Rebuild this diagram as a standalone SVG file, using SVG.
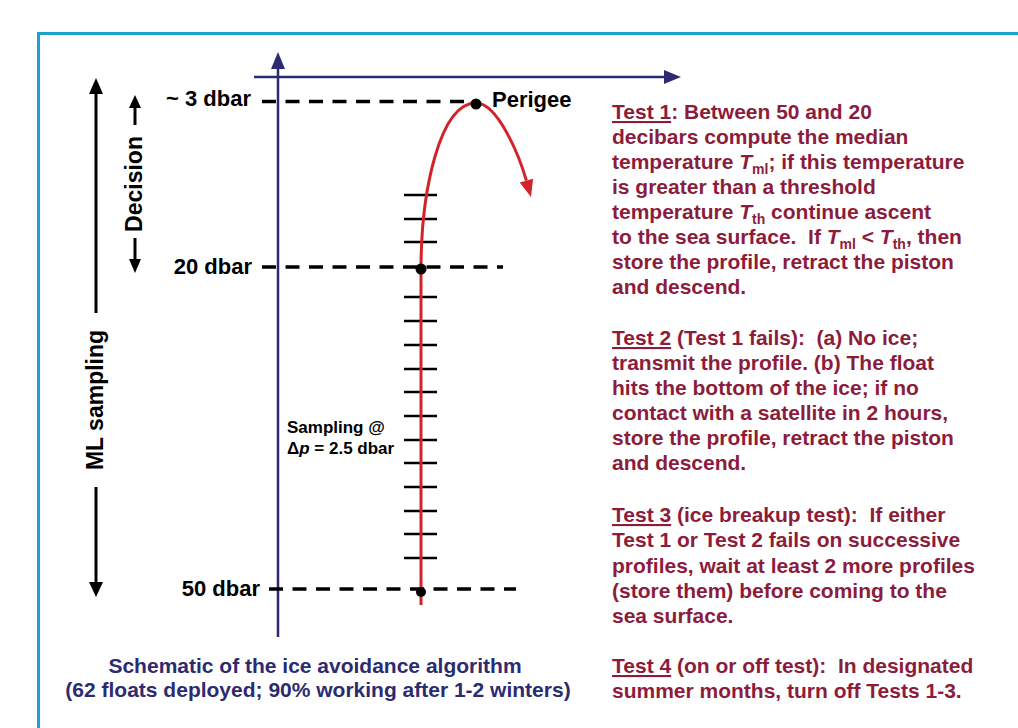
<svg xmlns="http://www.w3.org/2000/svg" width="1018" height="728" viewBox="0 0 1018 728">
<style>
.lbl{font-family:"Liberation Sans",Arial,sans-serif;font-weight:bold;font-size:22px;fill:#000}
.small{font-family:"Liberation Sans",Arial,sans-serif;font-weight:bold;font-size:17px;fill:#000}
.body{font-family:"Liberation Sans",Arial,sans-serif;font-weight:bold;font-size:21px;fill:#8c1c3c;white-space:pre}
.cap{font-family:"Liberation Sans",Arial,sans-serif;font-weight:bold;font-size:21px;fill:#2d2b70}
.dash{stroke:#000;stroke-width:3.5;stroke-dasharray:14 9.5;fill:none}
.tick{stroke:#000;stroke-width:2.5}
.axis{stroke:#2d2b70;stroke-width:2.5;fill:none}
.blk{stroke:#000;stroke-width:3;fill:none}
.u{text-decoration:underline}
.sub{font-size:14px}
</style>
<rect x="0" y="0" width="1018" height="728" fill="#fff"/>
<rect id="frame" x="38.5" y="33.5" width="1000" height="720" fill="none" stroke="#1ca3cb" stroke-width="3"/>

<g id="axes">
<line class="axis" x1="278" y1="66" x2="278" y2="637"/>
<polygon points="278,52 271,69 285,69" fill="#2d2b70"/>
<line class="axis" x1="254" y1="77" x2="666" y2="77"/>
<polygon points="681,77 664,70 664,84" fill="#2d2b70"/>
</g>

<g id="ml-sampling">
<line class="blk" x1="96" y1="90" x2="96" y2="313"/>
<polygon points="96,78 89,94 103,94" fill="#000"/>
<line class="blk" x1="96" y1="487" x2="96" y2="586"/>
<polygon points="96,597 89,582 103,582" fill="#000"/>
<text class="lbl" text-anchor="middle" transform="translate(103,400) rotate(-90)" style="font-size:23px">ML sampling</text>
</g>

<g id="decision">
<line class="blk" x1="135" y1="105" x2="135" y2="125"/>
<polygon points="135,95 129,108 141,108" fill="#000"/>
<line class="blk" x1="135" y1="238" x2="135" y2="262"/>
<polygon points="135,273 129,259 141,259" fill="#000"/>
<text class="lbl" text-anchor="middle" transform="translate(142,184) rotate(-90)" style="font-size:23px">Decision</text>
</g>

<g id="levels">
<text class="lbl" x="251" y="106" text-anchor="end">~ 3 dbar</text>
<text class="lbl" x="252" y="274" text-anchor="end">20 dbar</text>
<text class="lbl" x="260" y="596" text-anchor="end">50 dbar</text>
</g>

<g id="connectors">
<line class="dash" x1="262" y1="101.5" x2="474" y2="101.5"/>
<line class="dash" x1="262" y1="267" x2="503" y2="267"/>
<line class="dash" x1="269" y1="589" x2="516" y2="589"/>
<g id="ticks">
<line class="tick" x1="404" y1="195" x2="437" y2="195"/>
<line class="tick" x1="404" y1="219" x2="437" y2="219"/>
<line class="tick" x1="404" y1="242" x2="437" y2="242"/>
<line class="tick" x1="404" y1="297" x2="437" y2="297"/>
<line class="tick" x1="404" y1="321" x2="437" y2="321"/>
<line class="tick" x1="404" y1="345" x2="437" y2="345"/>
<line class="tick" x1="404" y1="369" x2="437" y2="369"/>
<line class="tick" x1="404" y1="392" x2="437" y2="392"/>
<line class="tick" x1="404" y1="416" x2="437" y2="416"/>
<line class="tick" x1="404" y1="440" x2="437" y2="440"/>
<line class="tick" x1="404" y1="463" x2="437" y2="463"/>
<line class="tick" x1="404" y1="487" x2="437" y2="487"/>
<line class="tick" x1="404" y1="511" x2="437" y2="511"/>
<line class="tick" x1="404" y1="534" x2="437" y2="534"/>
<line class="tick" x1="404" y1="558" x2="437" y2="558"/>
</g>
<path id="trajectory" d="M421 605 L421 270 C421 190 440 103 476 103 C498 103 519.6 156.7 526.4 180.7" fill="none" stroke="#d2232a" stroke-width="3"/>
<polygon points="531,197 519.7,182.6 533.1,178.8" fill="#d2232a"/>
<circle cx="476" cy="104" r="5.5" fill="#000"/>
<circle cx="421" cy="269" r="5.5" fill="#000"/>
<circle cx="421" cy="592" r="5" fill="#000"/>
</g>

<g id="perigee"><text class="lbl" x="492" y="107">Perigee</text></g>

<g id="sampling">
<text class="small" x="287" y="433">Sampling @</text>
<text class="small" x="287" y="454">Δ<tspan font-style="italic">p</tspan> = 2.5 dbar</text>
</g>

<g id="test1">
<text class="body" x="612" y="119"><tspan class="u">Test 1</tspan>: Between 50 and 20</text>
<text class="body" x="612" y="144">decibars compute the median</text>
<text class="body" x="612" y="169">temperature <tspan font-style="italic">T</tspan><tspan class="sub" dy="5">ml</tspan><tspan dy="-5">; if this temperature</tspan></text>
<text class="body" x="612" y="194">is greater than a threshold</text>
<text class="body" x="612" y="219">temperature <tspan font-style="italic">T</tspan><tspan class="sub" dy="5">th</tspan><tspan dy="-5"> continue ascent</tspan></text>
<text class="body" x="612" y="244" xml:space="preserve">to the sea surface.  If <tspan font-style="italic">T</tspan><tspan class="sub" dy="5">ml</tspan><tspan dy="-5"> &lt; </tspan><tspan font-style="italic">T</tspan><tspan class="sub" dy="5">th</tspan><tspan dy="-5">, then</tspan></text>
<text class="body" x="612" y="269">store the profile, retract the piston</text>
<text class="body" x="612" y="294">and descend.</text>
</g>

<g id="test2">
<text class="body" x="612" y="345" xml:space="preserve"><tspan class="u">Test 2</tspan> (Test 1 fails):  (a) No ice;</text>
<text class="body" x="612" y="370">transmit the profile. (b) The float</text>
<text class="body" x="612" y="395">hits the bottom of the ice; if no</text>
<text class="body" x="612" y="420">contact with a satellite in 2 hours,</text>
<text class="body" x="612" y="445">store the profile, retract the piston</text>
<text class="body" x="612" y="470">and descend.</text>
</g>

<g id="test3">
<text class="body" x="612" y="522" xml:space="preserve"><tspan class="u">Test 3</tspan> (ice breakup test):  If either</text>
<text class="body" x="612" y="547">Test 1 or Test 2 fails on successive</text>
<text class="body" x="612" y="573">profiles, wait at least 2 more profiles</text>
<text class="body" x="612" y="598">(store them) before coming to the</text>
<text class="body" x="612" y="623">sea surface.</text>
</g>

<g id="test4">
<text class="body" x="612" y="673" xml:space="preserve"><tspan class="u">Test 4</tspan> (on or off test):  In designated</text>
<text class="body" x="612" y="698">summer months, turn off Tests 1-3.</text>
</g>

<g id="caption">
<text class="cap" x="315" y="673" text-anchor="middle">Schematic of the ice avoidance algorithm</text>
<text class="cap" x="318" y="697" text-anchor="middle">(62 floats deployed; 90% working after 1-2 winters)</text>
</g>
</svg>
